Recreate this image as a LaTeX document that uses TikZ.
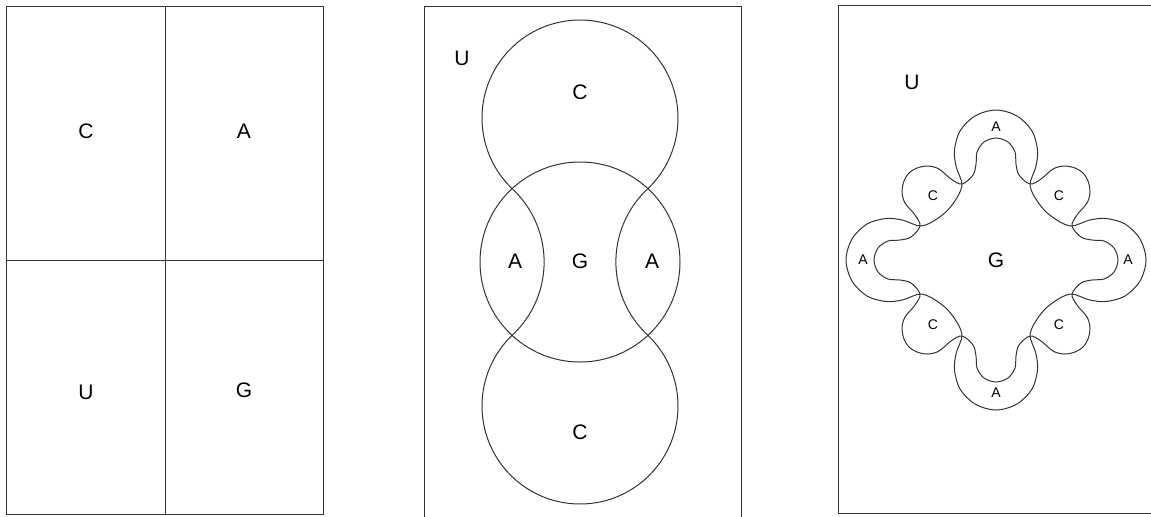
\documentclass[tikz,border=0pt]{standalone}
\usepackage{fontspec}
\setmainfont{Liberation Sans}
\begin{document}
\begin{tikzpicture}[x=0.5pt,y=-0.5pt,
  ln/.style={draw=black!80, line width=0.5pt},
  big/.style={font=\fontsize{10.5}{12}\selectfont, inner sep=0pt},
  sml/.style={font=\fontsize{7}{8}\selectfont, inner sep=0pt}]
\useasboundingbox (0,0) rectangle (1151,516);
\clip (0,0) rectangle (1151,516);
% ---------- panel 1 ----------
\draw[ln] (6,6) rectangle (323,514);
\draw[ln] (165,6) -- (165,514);
\draw[ln] (6,260) -- (323,260);
\node[big] (c1) at (86,131) {C};
\node[big] (a1) at (244,131) {A};
\node[big] (u1) at (86,392) {U};
\node[big] (g1) at (244,390) {G};
% ---------- panel 2 ----------
\draw[ln] (424,530) -- (424,6) -- (741,6) -- (741,530);
\draw[ln] (580,262) circle[radius=100];
\draw[ln] (512.06,188.63) arc[start angle=133.89, end angle=406.11, radius=98];
\draw[ln] (647.94,335.37) arc[start angle=-46.11, end angle=226.11, radius=98];
\draw[ln] (512.06,188.6) arc[start angle=-47.2, end angle=47.2, radius=100];
\draw[ln] (647.94,188.6) arc[start angle=227.2, end angle=132.8, radius=100];
\node[big] (u2) at (462,58) {U};
\node[big] (c2t) at (580,92) {C};
\node[big] (a2l) at (515,261) {A};
\node[big] (g2) at (580,261) {G};
\node[big] (a2r) at (652,261) {A};
\node[big] (c2b) at (580,432) {C};
% ---------- panel 3 ----------
\draw[ln] (1160,5) -- (838,5) -- (838,513) -- (1160,513);
\begin{scope}[shift={(996,260)}]
\draw[ln] plot[smooth cycle, tension=0.55] coordinates {
 (0,122) (-12,118) (-19,108) (-20,96) (-23,85) (-34,76) (-45,81) (-57,91) (-68,94) (-79,92) (-87,87) (-92,79) (-94,68) (-91,57) (-81,45) (-76,34) (-85,23) (-96,20) (-108,19) (-118,12)
 (-122,0) (-118,-12) (-108,-19) (-96,-20) (-85,-23) (-76,-34) (-81,-45) (-91,-57) (-94,-68) (-92,-79) (-87,-87) (-79,-92) (-68,-94) (-57,-91) (-45,-81) (-34,-76) (-23,-85) (-20,-96) (-19,-108) (-12,-118)
 (0,-122) (12,-118) (19,-108) (20,-96) (23,-85) (34,-76) (45,-81) (57,-91) (68,-94) (79,-92) (87,-87) (92,-79) (94,-68) (91,-57) (81,-45) (76,-34) (85,-23) (96,-20) (108,-19) (118,-12)
 (122,0) (118,12) (108,19) (96,20) (85,23) (76,34) (81,45) (91,57) (94,68) (92,79) (87,87) (79,92) (68,94) (57,91) (45,81) (34,76) (23,85) (20,96) (19,108) (12,118)};
\draw[ln] plot[smooth cycle, tension=0.55] coordinates {
 (0,150) (-21,144) (-36,129) (-41.5,110) (-40,94) (-36,83) (-34,75) (-38,64) (-49,49) (-64,38) (-75,34) (-83,36) (-94,40) (-110,41.5) (-129,36) (-144,21)
 (-150,0) (-144,-21) (-129,-36) (-110,-41.5) (-94,-40) (-83,-36) (-75,-34) (-64,-38) (-49,-49) (-38,-64) (-34,-75) (-36,-83) (-40,-94) (-41.5,-110) (-36,-129) (-21,-144)
 (0,-150) (21,-144) (36,-129) (41.5,-110) (40,-94) (36,-83) (34,-75) (38,-64) (49,-49) (64,-38) (75,-34) (83,-36) (94,-40) (110,-41.5) (129,-36) (144,-21)
 (150,0) (144,21) (129,36) (110,41.5) (94,40) (83,36) (75,34) (64,38) (49,49) (38,64) (34,75) (36,83) (40,94) (41.5,110) (36,129) (21,144)};
\end{scope}
\node[big] (u3) at (912,82) {U};
\node[big] (g3) at (996,260) {G};
\node[sml] (a3t) at (996,127) {A};
\node[sml] (a3b) at (996,393) {A};
\node[sml] (a3l) at (863,260) {A};
\node[sml] (a3r) at (1128,260) {A};
\node[sml] (c3ul) at (933,196) {C};
\node[sml] (c3ur) at (1059,196) {C};
\node[sml] (c3ll) at (933,325) {C};
\node[sml] (c3lr) at (1059,325) {C};
\end{tikzpicture}
\end{document}
